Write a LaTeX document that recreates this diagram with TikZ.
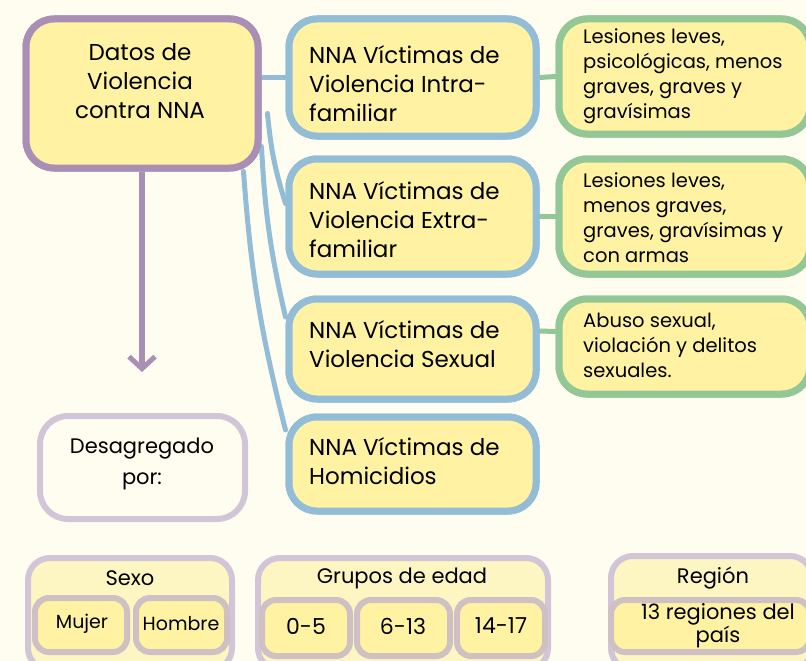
\documentclass[tikz,border=0pt]{standalone}
\usepackage{fontspec}
\setmainfont{Poppins}
\usetikzlibrary{arrows.meta,calc}
\definecolor{bgc}{HTML}{FEFDF0}
\definecolor{yel}{HTML}{FFF3A3}
\definecolor{yellt}{HTML}{FDF6C3}
\definecolor{purp}{HTML}{A98FB6}
\definecolor{purlt}{HTML}{D3C5D8}
\definecolor{bluc}{HTML}{93BDD6}
\definecolor{grnc}{HTML}{93C796}
\definecolor{innc}{HTML}{CFC0C4}
\tikzset{
  box/.style={draw, line width=7pt, rounded corners=28pt, fill=yel, inner sep=0pt},
  mainbox/.style={box, draw=purp},
  bluebox/.style={box, draw=bluc},
  greenbox/.style={box, draw=grnc},
  descbox/.style={box, draw=purlt, fill=bgc, line width=6pt},
  groupbox/.style={box, draw=purlt, fill=yellt, line width=6pt, rounded corners=22pt},
  innerbox/.style={box, draw=innc, line width=6pt, rounded corners=14pt},
  bigtxt/.style={font=\fontsize{23}{29}\selectfont, inner sep=0pt},
  midtxt/.style={font=\fontsize{19.5}{25}\selectfont, inner sep=0pt},
  lowtxt/.style={font=\fontsize{21}{25}\selectfont, inner sep=0pt},
  conn/.style={line width=5pt, line cap=round},
}
\begin{document}
\begin{tikzpicture}[x=1pt,y=-1pt]
\fill[bgc] (0,0) rectangle (806,661);
\useasboundingbox (0,0) rectangle (806,661);
\clip (0,0) rectangle (806,661);
\node[mainbox, minimum width=232pt, minimum height=149pt] (datos) at (142,93.5) {};
\node[bluebox, minimum width=247pt, minimum height=117pt] (intra) at (412.5,77.5) {};
\node[bluebox, minimum width=247pt, minimum height=115pt] (extra) at (412.5,216.5) {};
\node[bluebox, minimum width=247pt, minimum height=100pt] (sexual) at (412.5,349) {};
\node[bluebox, minimum width=247pt, minimum height=94pt] (homic) at (412.5,464) {};
\node[greenbox, minimum width=251pt, minimum height=115pt] (g1) at (684.5,76.5) {};
\node[greenbox, minimum width=251pt, minimum height=115pt] (g2) at (684.5,216.5) {};
\node[greenbox, minimum width=251pt, minimum height=95pt] (g3) at (684.5,346.5) {};
\node[descbox, minimum width=205pt, minimum height=103pt] (desag) at (142.5,467.5) {};
% connectors
\draw[conn, bluc] (datos.east |- intra.west) -- (intra.west);
\draw[conn, bluc] ($(datos.east)+(6,20)$) to[bend right=6] ($(extra.west)+(0,-13)$);
\draw[conn, bluc] ($(datos.east)+(0,53)$) to[bend right=5] ($(sexual.west)+(0,-32)$);
\draw[conn, bluc] ($(datos.south east)+(-18,0)$) to[bend right=5] ($(homic.west)+(0,-34)$);
\draw[conn, grnc] (intra.east) -- (g1.west);
\draw[conn, grnc] (extra.east) -- (g2.west);
\draw[conn, grnc] ($(sexual.east)+(0,-18)$) -- ($(g3.west)+(0,-15)$);
\coordinate (arrend) at (142,372);
\draw[line width=6pt, purp, -{Straight Barb[length=12pt,width=26pt,line width=5pt]}] (datos.south) -- (arrend);
% redraw boxes on top of connectors
\node[mainbox, minimum width=232pt, minimum height=149pt] at (datos) {};
\node[bluebox, minimum width=247pt, minimum height=117pt] at (intra) {};
\node[bluebox, minimum width=247pt, minimum height=115pt] at (extra) {};
\node[bluebox, minimum width=247pt, minimum height=100pt] at (sexual) {};
\node[bluebox, minimum width=247pt, minimum height=94pt] at (homic) {};
\node[greenbox, minimum width=251pt, minimum height=115pt] at (g1) {};
\node[greenbox, minimum width=251pt, minimum height=115pt] at (g2) {};
\node[greenbox, minimum width=251pt, minimum height=95pt] at (g3) {};
% texts
\node[bigtxt, align=center] (tdatos) at (140,81) {Datos de\\Violencia\\contra NNA};
\node[bigtxt, align=left, anchor=west] (tintra) at (309,84) {NNA Víctimas de\\Violencia Intra-\\familiar};
\node[bigtxt, align=left, anchor=west] (textra) at (309,220) {NNA Víctimas de\\Violencia Extra-\\familiar};
\node[bigtxt, align=left, anchor=west] (tsexual) at (309,344) {NNA Víctimas de\\Violencia Sexual};
\node[bigtxt, align=left, anchor=west] (thomic) at (309,461) {NNA Víctimas de\\Homicidios};
\node[midtxt, align=left, anchor=west] (tg1) at (583,76) {Lesiones leves,\\psicológicas, menos\\graves, graves y\\gravísimas};
\node[midtxt, align=left, anchor=west] (tg2) at (583,218) {Lesiones leves,\\menos graves,\\graves, gravísimas y\\con armas};
\node[midtxt, align=left, anchor=west] (tg3) at (583,345) {Abuso sexual,\\violación y delitos\\sexuales.};
\node[bigtxt, align=center, font=\fontsize{21}{31}\selectfont] (tdesag) at (142,464) {Desagregado\\por:};
% bottom groups
\node[groupbox, minimum width=204pt, minimum height=112pt] (sexo) at (130,614) {};
\node[innerbox, minimum width=92pt, minimum height=54pt] (mujer) at (81,625) {};
\node[innerbox, minimum width=91pt, minimum height=54pt] (hombre) at (181.5,625) {};
\node[lowtxt] (tsexo) at (130,578) {Sexo};
\node[lowtxt, font=\fontsize{19}{25}\selectfont] (tmujer) at (82,624) {Mujer};
\node[lowtxt, font=\fontsize{19}{25}\selectfont] (thombre) at (181,624) {Hombre};
\node[groupbox, minimum width=290pt, minimum height=112pt] (grupos) at (403,614) {};
\node[innerbox, minimum width=88pt, minimum height=56pt] (e1) at (306,628) {};
\node[innerbox, minimum width=93pt, minimum height=56pt] (e2) at (403.5,628) {};
\node[innerbox, minimum width=88pt, minimum height=56pt] (e3) at (501,628) {};
\node[lowtxt] (tgrupos) at (402,578) {Grupos de edad};
\node[lowtxt, font=\fontsize{22}{25}\selectfont] (te1) at (306,626) {0-5};
\node[lowtxt, font=\fontsize{22}{25}\selectfont] (te2) at (403,626) {6-13};
\node[lowtxt, font=\fontsize{22}{25}\selectfont] (te3) at (501,626) {14-17};
\node[groupbox, minimum width=201pt, minimum height=114pt] (region) at (711.5,613) {};
\node[innerbox, minimum width=199pt, minimum height=52pt] (reg) at (710.5,626) {};
\node[lowtxt] (tregion) at (713,578) {Región};
\node[lowtxt, align=center, font=\fontsize{21}{23}\selectfont] (treg) at (718,626) {13 regiones del\\país};
\end{tikzpicture}
\end{document}
